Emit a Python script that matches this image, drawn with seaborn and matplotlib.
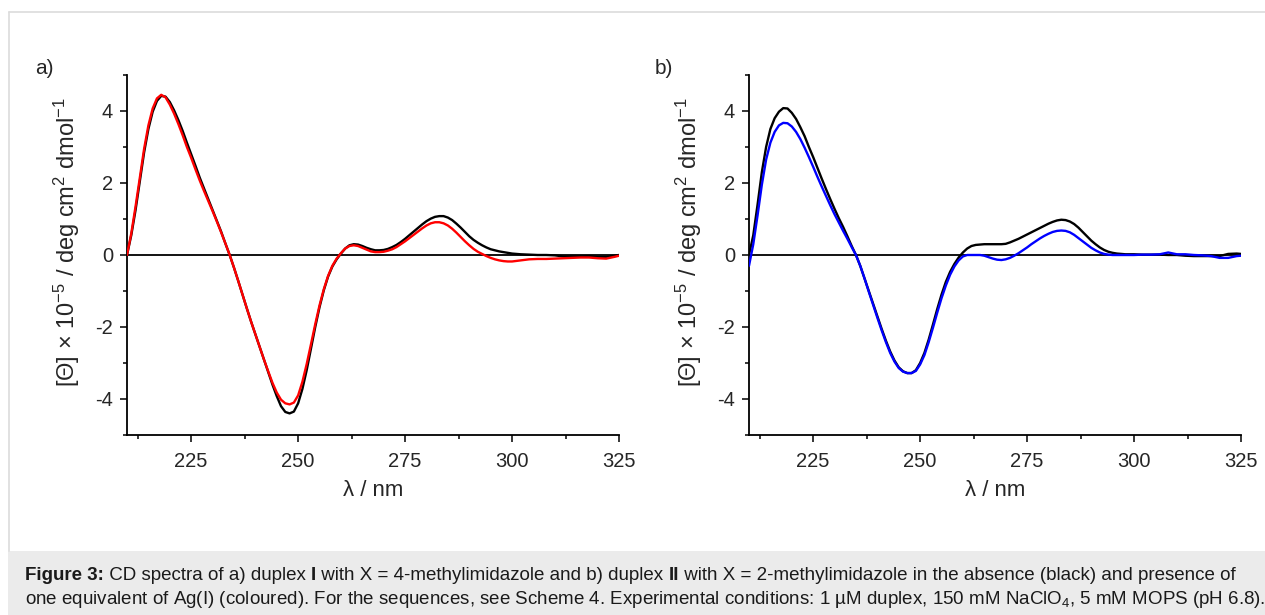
import numpy as np
import pandas as pd
import matplotlib
matplotlib.use('Agg')
import matplotlib.pyplot as plt
import seaborn as sns
from matplotlib.patches import Rectangle
from matplotlib.lines import Line2D

# wavelength grid (nm): 1 nm steps to 300, then 2 nm steps
wavelength = list(range(210, 301)) + list(range(302, 325, 2)) + [325]

# panel a) duplex I, without (black) and with Ag(I) (red)
a_free = [0.0, 0.55, 1.25, 2.05, 2.85, 3.5, 3.98, 4.28, 4.42, 4.4,
          4.25, 4.02, 3.75, 3.45, 3.12, 2.8, 2.48, 2.15, 1.85, 1.55,
          1.25, 0.95, 0.65, 0.32, 0.0, -0.35, -0.72, -1.1, -1.48, -1.85,
          -2.2, -2.55, -2.9, -3.25, -3.6, -3.92, -4.2, -4.36, -4.4, -4.35,
          -4.12, -3.72, -3.2, -2.6, -2.0, -1.45, -0.98, -0.6, -0.32, -0.12,
          0.04, 0.18, 0.27, 0.3, 0.29, 0.25, 0.2, 0.16, 0.13, 0.13,
          0.14, 0.17, 0.22, 0.28, 0.36, 0.45, 0.55, 0.65, 0.75, 0.85,
          0.94, 1.01, 1.06, 1.08, 1.08, 1.04, 0.97, 0.87, 0.76, 0.64,
          0.52, 0.42, 0.34, 0.27, 0.21, 0.16, 0.13, 0.1, 0.08, 0.06,
          0.04,
          0.02, 0.01, 0.0, 0.0, -0.01, -0.04, -0.04, -0.04, -0.03, -0.05, -0.05, -0.02, 0.0]
a_ag = [0.0, 0.6, 1.35, 2.15, 2.95, 3.6, 4.07, 4.35, 4.45, 4.38,
        4.18, 3.93, 3.64, 3.33, 3.0, 2.7, 2.38, 2.07, 1.78, 1.5,
        1.22, 0.93, 0.63, 0.32, 0.0, -0.35, -0.72, -1.1, -1.48, -1.85,
        -2.2, -2.55, -2.9, -3.23, -3.55, -3.82, -4.02, -4.12, -4.15, -4.1,
        -3.9, -3.52, -3.03, -2.48, -1.92, -1.4, -0.95, -0.58, -0.3, -0.1,
        0.05, 0.18, 0.25, 0.27, 0.25, 0.2, 0.15, 0.1, 0.08, 0.08,
        0.09, 0.12, 0.16, 0.22, 0.3, 0.38, 0.47, 0.56, 0.65, 0.74,
        0.82, 0.88, 0.91, 0.91, 0.88, 0.82, 0.73, 0.62, 0.5, 0.38,
        0.27, 0.17, 0.09, 0.03, -0.03, -0.08, -0.12, -0.15, -0.17, -0.18,
        -0.18,
        -0.15, -0.12, -0.11, -0.11, -0.1, -0.09, -0.08, -0.07, -0.07, -0.09, -0.1, -0.05, -0.02]

# panel b) duplex II, without (black) and with Ag(I) (blue)
b_free = [0.0, 0.55, 1.4, 2.3, 3.0, 3.5, 3.8, 3.98, 4.08, 4.07,
          3.95, 3.78, 3.55, 3.3, 3.0, 2.72, 2.42, 2.12, 1.83, 1.55,
          1.28, 1.02, 0.78, 0.52, 0.25, 0.0, -0.3, -0.65, -1.0, -1.35,
          -1.7, -2.05, -2.38, -2.68, -2.93, -3.12, -3.23, -3.28, -3.28, -3.2,
          -3.0, -2.72, -2.35, -1.93, -1.5, -1.1, -0.75, -0.47, -0.25, -0.07,
          0.07, 0.18, 0.25, 0.28, 0.29, 0.3, 0.3, 0.3, 0.3, 0.3,
          0.31, 0.35, 0.4, 0.45, 0.51, 0.57, 0.63, 0.69, 0.75, 0.81,
          0.87, 0.92, 0.96, 0.98, 0.97, 0.93, 0.86, 0.76, 0.64, 0.52,
          0.4, 0.3, 0.21, 0.14, 0.09, 0.06, 0.04, 0.03, 0.02, 0.02,
          0.02,
          0.01, 0.01, 0.01, 0.0, 0.0, -0.02, -0.03, -0.03, -0.03, -0.03, 0.03, 0.04, 0.03]
b_ag = [-0.3, 0.3, 1.1, 1.95, 2.65, 3.12, 3.42, 3.6, 3.67, 3.66,
        3.57, 3.42, 3.22, 2.98, 2.72, 2.45, 2.17, 1.9, 1.64, 1.38,
        1.13, 0.9, 0.67, 0.45, 0.22, 0.0, -0.3, -0.65, -1.02, -1.38,
        -1.74, -2.09, -2.42, -2.72, -2.96, -3.14, -3.24, -3.28, -3.28, -3.22,
        -3.04, -2.78, -2.42, -2.02, -1.6, -1.2, -0.85, -0.55, -0.32, -0.15,
        -0.04, 0.0, 0.0, 0.0, 0.0, -0.02, -0.06, -0.1, -0.13, -0.14,
        -0.12, -0.08, -0.02, 0.05, 0.13, 0.21, 0.3, 0.38, 0.46, 0.53,
        0.59, 0.64, 0.67, 0.68, 0.67, 0.63, 0.56, 0.47, 0.38, 0.29,
        0.2, 0.13, 0.07, 0.03, 0.01, 0.0, 0.0, 0.0, 0.0, 0.0,
        0.0,
        0.01, 0.01, 0.02, 0.07, 0.02, 0.02, 0.0, -0.01, -0.03, -0.08, -0.08, -0.03, -0.02]

x_ticks = [225, 250, 275, 300, 325]
y_ticks = [-4, -2, 0, 2, 4]

sns.set_style("ticks")
plt.rcParams['font.family'] = ['Liberation Sans', 'DejaVu Sans']
plt.rcParams['mathtext.fontset'] = 'custom'
plt.rcParams['mathtext.rm'] = 'Liberation Sans'
plt.rcParams['mathtext.it'] = 'Liberation Sans:italic'
plt.rcParams['mathtext.bf'] = 'Liberation Sans:bold'
plt.rcParams['axes.unicode_minus'] = False

W, H = 1265, 615
fig = plt.figure(figsize=(W / 100, H / 100), dpi=100)

# page frame and caption box
fig.add_artist(Line2D([9 / W, 1], [1 - 12 / H, 1 - 12 / H], transform=fig.transFigure, color='#dcdcdc', lw=1.2))
fig.add_artist(Line2D([9 / W, 9 / W], [1 - 12 / H, 1 - 551 / H], transform=fig.transFigure, color='#dcdcdc', lw=1.2))
fig.add_artist(Rectangle((8 / W, 0), 1, 1 - 551 / H, transform=fig.transFigure, facecolor='#ebebeb', edgecolor='none'))


def draw_panel(left_px, free, ag, colour, label, label_x):
    ax = fig.add_axes([left_px / W, 1 - 435 / H, 492 / W, 360 / H])
    df = pd.DataFrame({'wl': wavelength, 'free': free, 'ag': ag})
    ax.axhline(0, color='black', lw=1.3, zorder=1)
    sns.lineplot(data=df, x='wl', y='free', color='black', lw=1.7, ax=ax,
                 estimator=None, sort=False, zorder=2)
    sns.lineplot(data=df, x='wl', y='ag', color=colour, lw=1.7, ax=ax,
                 estimator=None, sort=False, zorder=3)
    ax.set_xlim(210, 325)
    ax.set_ylim(-5, 5)
    ax.set_xticks(x_ticks)
    ax.set_xticks([212.5, 237.5, 262.5, 287.5, 312.5], minor=True)
    ax.set_yticks(y_ticks)
    ax.set_yticks([-5, -3, -1, 1, 3, 5], minor=True)
    ax.tick_params(which='major', direction='out', length=5, width=1.1, labelsize=14.5, pad=5, color='black')
    ax.tick_params(which='minor', direction='out', length=3, width=1.1, color='black')
    ax.tick_params(axis='x', which='major', pad=7)
    sns.despine(ax=ax)
    for s in ['left', 'bottom']:
        ax.spines[s].set_linewidth(1.3)
        ax.spines[s].set_color('black')
    ax.set_xlabel('λ / nm', fontsize=16)
    ax.set_ylabel('[Θ] × 10$^{-5}$ / deg cm$^{2}$ dmol$^{-1}$', fontsize=17)
    ax.xaxis.set_label_coords(0.5, -0.125)
    ax.yaxis.set_label_coords(-0.092, 0.535)
    fig.text(label_x / W, 1 - 74 / H, label, fontsize=15, ha='left', va='baseline')
    return ax


draw_panel(127, a_free, a_ag, '#ff0000', 'a)', 35)
draw_panel(749, b_free, b_ag, '#0000ff', 'b)', 655)

# caption with bold segments
renderer = fig.canvas.get_renderer()


def caption_line(segments, x_px, y_px):
    x = x_px / W
    for txt, bold in segments:
        t = fig.text(x, 1 - y_px / H, txt, fontsize=13.5, va='baseline', ha='left',
                     fontweight='bold' if bold else 'normal', color='#1a1a1a')
        bb = t.get_window_extent(renderer)
        x = bb.x1 / W


caption_line([("Figure 3:", True), (" CD spectra of a) duplex ", False), ("I", True),
              (" with X = 4-methylimidazole and b) duplex ", False), ("II", True),
              (" with X = 2-methylimidazole in the absence (black) and presence of", False)], 25, 580)
caption_line([("one equivalent of Ag(I) (coloured). For the sequences, see Scheme 4. Experimental "
               "conditions: 1 µM duplex, 150 mM NaClO$_4$, 5 mM MOPS (pH 6.8).", False)], 25, 604)

fig.savefig('out.png', dpi=100)
